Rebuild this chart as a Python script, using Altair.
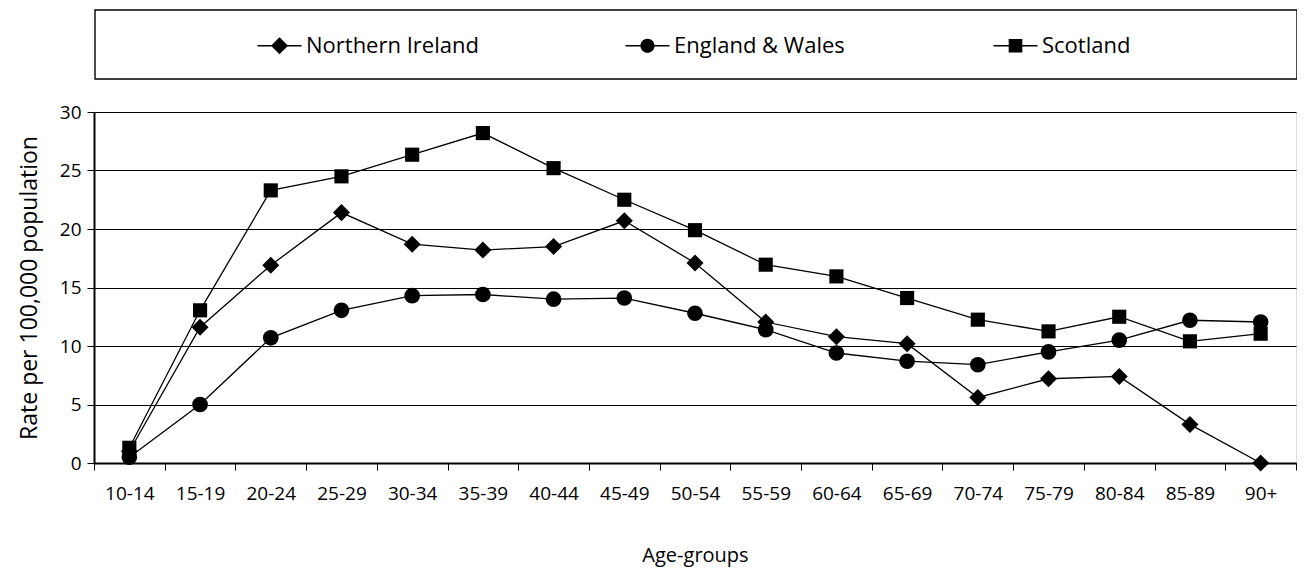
import altair as alt
import pandas as pd

ages = ["10-14", "15-19", "20-24", "25-29", "30-34", "35-39", "40-44", "45-49",
        "50-54", "55-59", "60-64", "65-69", "70-74", "75-79", "80-84", "85-89", "90+"]
series_names = ["Northern Ireland", "England & Wales", "Scotland"]

northern_ireland = [1.0, 11.6, 16.9, 21.4, 18.7, 18.2, 18.5, 20.7, 17.1, 12.05, 10.8,
                    10.2, 5.6, 7.2, 7.4, 3.3, 0.0]
england_wales = [0.5, 5.0, 10.7, 13.05, 14.3, 14.4, 14.0, 14.1, 12.8, 11.4, 9.4,
                 8.7, 8.4, 9.5, 10.5, 12.2, 12.05]
scotland = [1.3, 13.05, 23.3, 24.5, 26.35, 28.2, 25.2, 22.5, 19.9, 16.95, 15.95,
            14.1, 12.25, 11.25, 12.5, 10.4, 11.05]

rows = []
for name, vals in zip(series_names, [northern_ireland, england_wales, scotland]):
    for a, v in zip(ages, vals):
        rows.append({"age": a, "rate": v, "series": name})
df = pd.DataFrame(rows)

FONT = "Open Sans"
W, H = 1202, 351

x_enc = alt.X(
    "age:N", sort=ages,
    scale=alt.Scale(type="band", paddingInner=0, paddingOuter=0),
    bandPosition=0.5,
    axis=alt.Axis(title="Age-groups", tickBand="extent", labelAngle=0,
                  labelPadding=14, tickSize=7, tickColor="black", tickWidth=1,
                  domainColor="black", domainWidth=2, grid=False,
                  labelFont=FONT, labelFontSize=19, labelColor="black",
                  titleFont=FONT, titleFontSize=20, titleFontWeight="normal",
                  titleColor="black", titlePadding=42),
)
y_enc = alt.Y(
    "rate:Q",
    scale=alt.Scale(domain=[0, 30], nice=False, zero=True),
    axis=alt.Axis(title="Rate per 100,000 population", values=[0, 5, 10, 15, 20, 25, 30],
                  grid=True, gridColor="black", gridWidth=1, gridOpacity=1,
                  tickSize=7, tickColor="black", domainColor="black", domainWidth=2,
                  labelPadding=6, labelFont=FONT, labelFontSize=19, labelColor="black",
                  titleFont=FONT, titleFontSize=23, titleFontWeight="normal",
                  titleColor="black", titlePadding=18),
)

base = alt.Chart(df)

lines = base.mark_line(color="black", strokeWidth=1.3).encode(
    x=x_enc, y=y_enc, detail="series:N"
)

points = base.mark_point(filled=True, color="black", opacity=1).encode(
    x=x_enc, y=y_enc,
    shape=alt.Shape("series:N", scale=alt.Scale(domain=series_names,
                                                range=["diamond", "circle", "square"]),
                    legend=None),
    size=alt.Size("series:N", scale=alt.Scale(domain=series_names, range=[290, 200, 196]),
                  legend=None),
)

# legend glyphs: a thin bar (the line) plus the marker, all as filled areas
legend_paths = [
    "M-1,-0.03L1,-0.03L1,0.03L-1,0.03ZM-0.39,0L0,-0.39L0.39,0L0,0.39Z",
    "M-1,-0.03L1,-0.03L1,0.03L-1,0.03ZM-0.32,0A0.32,0.32 0 1,1 0.32,0A0.32,0.32 0 1,1 -0.32,0Z",
    "M-1,-0.03L1,-0.03L1,0.03L-1,0.03ZM-0.31,-0.31L0.31,-0.31L0.31,0.31L-0.31,0.31Z",
]

legend_layer = base.mark_point(filled=True, color="black", size=0, opacity=1).encode(
    x=x_enc, y=y_enc,
    shape=alt.Shape("series:N", scale=alt.Scale(domain=series_names, range=legend_paths),
                    legend=alt.Legend(title=None, orient="none", legendX=163, legendY=-89,
                                      direction="horizontal", columns=3, gridAlign="all",
                                      columnPadding=145, padding=0, symbolSize=1936,
                                      symbolFillColor="black", symbolStrokeColor="black",
                                      symbolStrokeWidth=0.6, symbolOpacity=1,
                                      labelFont=FONT, labelFontSize=22, labelColor="black",
                                      labelOffset=4, labelLimit=400)),
)

box = alt.Chart(pd.DataFrame({"k": [0]})).mark_rect(
    fill="white", fillOpacity=0, stroke="black", strokeWidth=1.4
).encode(x=alt.value(1), x2=alt.value(1203), y=alt.value(-102), y2=alt.value(-33))

chart = alt.layer(box, lines, points, legend_layer).resolve_scale(
    shape="independent", size="independent"
).properties(
    width=W, height=H,
    autosize=alt.AutoSizeParams(type="none"),
    padding={"left": 86, "top": 104, "right": 1, "bottom": 104},
).configure_view(stroke="black", strokeWidth=1).configure(background="white")

chart.save("out.html", embed_options={"renderer": "svg", "actions": False})
